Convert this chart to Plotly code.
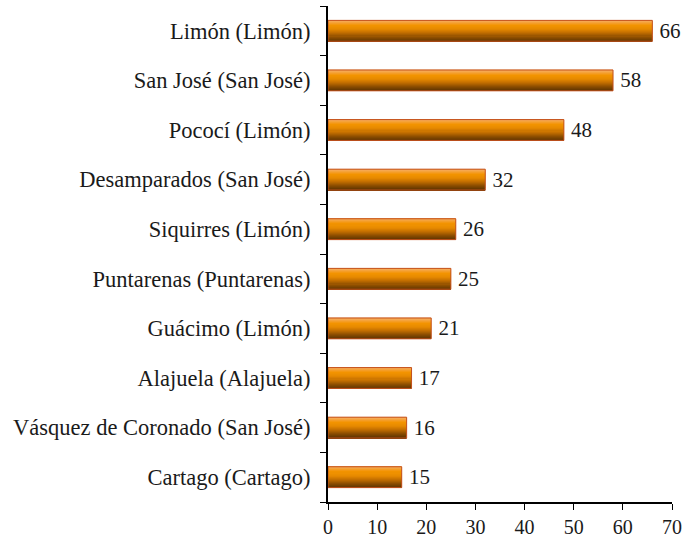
import plotly.graph_objects as go

categories = ["Limón (Limón)", "San José (San José)", "Pococí (Limón)",
              "Desamparados (San José)", "Siquirres (Limón)",
              "Puntarenas (Puntarenas)", "Guácimo (Limón)",
              "Alajuela (Alajuela)", "Vásquez de Coronado (San José)",
              "Cartago (Cartago)"]
values = [66, 58, 48, 32, 26, 25, 21, 17, 16, 15]
x_ticks = [0, 10, 20, 30, 40, 50, 60, 70]

# gradient key colours, bottom edge of bar -> top edge
key_colors = [(0x5e, 0x34, 0x00), (0x8a, 0x4c, 0x00), (0xc0, 0x6c, 0x00),
              (0xe6, 0x89, 0x00), (0xf3, 0x94, 0x00), (0xf6, 0xa8, 0x50)]


def shade_list(keys, n):
    out = []
    for i in range(n):
        t = i / (n - 1) * (len(keys) - 1)
        k = min(int(t), len(keys) - 2)
        f = t - k
        c = [round(keys[k][j] + (keys[k + 1][j] - keys[k][j]) * f) for j in range(3)]
        out.append("rgb(%d,%d,%d)" % tuple(c))
    return out


shades = shade_list(key_colors, 20)

SERIF = "Liberation Serif, Times New Roman, serif"
bar_w = 0.42
n = len(shades)
fig = go.Figure()
for i, c in enumerate(shades):
    fig.add_trace(go.Bar(
        x=values, y=categories, orientation="h",
        width=bar_w / n + 0.004, offset=-bar_w / 2 + i * bar_w / n,
        marker=dict(color=c, line=dict(width=0)),
        hoverinfo="skip", showlegend=False))

fig.add_trace(go.Bar(
    x=values, y=categories, orientation="h",
    width=bar_w, offset=-bar_w / 2,
    marker=dict(color="rgba(0,0,0,0)", line=dict(color="#c4521e", width=1)),
    texttemplate="\u2009%{x}", textposition="outside", cliponaxis=False,
    constraintext="none",
    textfont=dict(family=SERIF, size=21, color="#1a1a1a"),
    showlegend=False))

fig.update_layout(
    width=688, height=552,
    margin=dict(l=328, r=14, t=6, b=50),
    barmode="overlay",
    plot_bgcolor="white", paper_bgcolor="white",
    font=dict(family=SERIF, size=22, color="#1a1a1a"),
    xaxis=dict(range=[0, 70], tickvals=x_ticks, ticks="outside", ticklen=6,
               tickcolor="black", showline=True, linecolor="black",
               linewidth=1.5, showgrid=False, zeroline=False,
               tickfont=dict(family=SERIF, size=20)),
    yaxis=dict(categoryorder="array", categoryarray=categories[::-1],
               ticks="outside", ticklen=6, tickson="boundaries",
               tickcolor="black", showline=True, linecolor="black",
               linewidth=1.5, showgrid=False, ticksuffix="  ",
               tickfont=dict(family=SERIF, size=22.5)),
)

fig.write_html("out.html", config={"displayModeBar": False},
               post_script="document.body.style.margin='0';")
